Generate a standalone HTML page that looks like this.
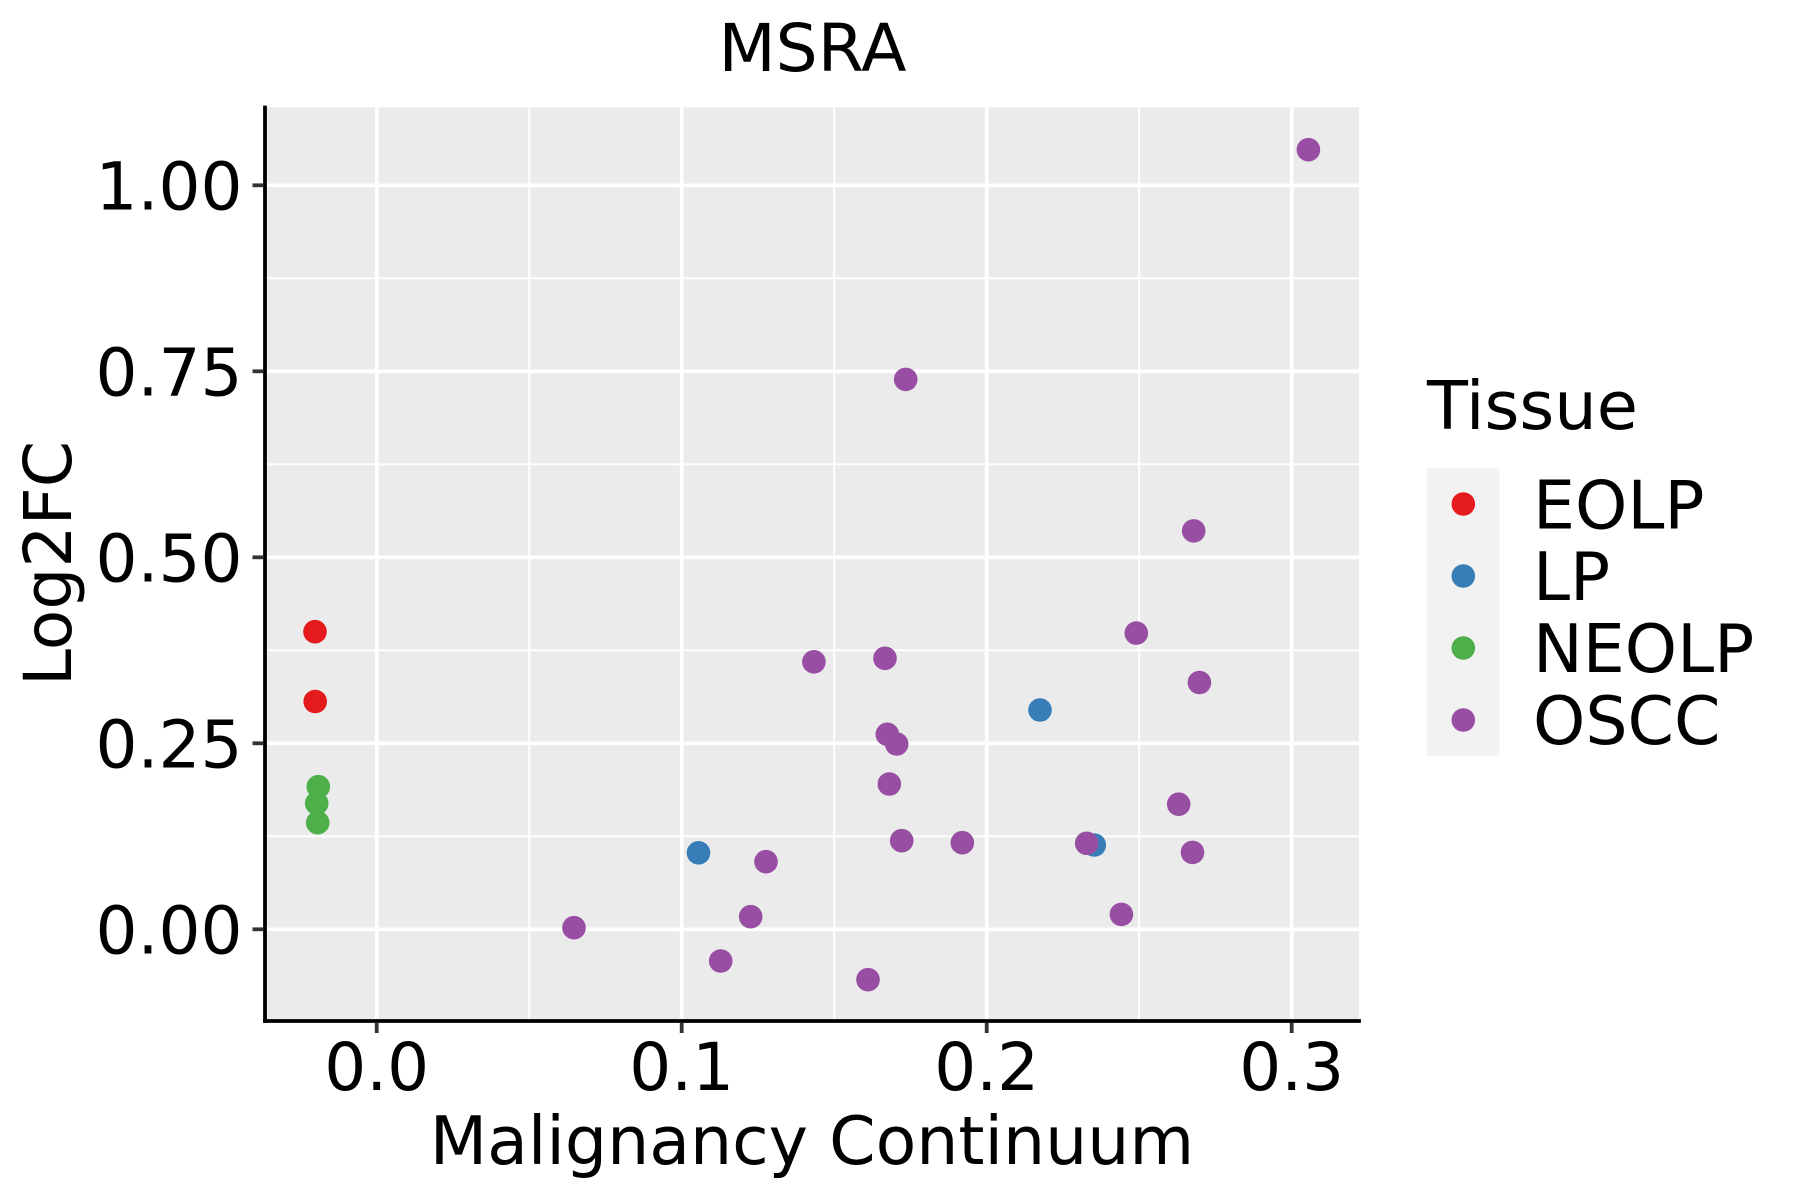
<!DOCTYPE html>
<html>
<head>
<meta charset="utf-8">
<style>
html,body{margin:0;padding:0;background:#fff;}
svg{display:block;}
text{font-family:"DejaVu Sans","Liberation Sans",sans-serif;fill:#000;}
</style>
</head>
<body>
<svg width="1800" height="1200" viewBox="0 0 1800 1200" xmlns="http://www.w3.org/2000/svg">
<rect x="0" y="0" width="1800" height="1200" fill="#fff"/>
<!-- panel -->
<rect x="265" y="107.3" width="1094" height="913.7" fill="#EBEBEB"/>
<!-- minor grid -->
<g stroke="#fff" stroke-width="1.9">
<line x1="529.2" y1="107.3" x2="529.2" y2="1021"/>
<line x1="834.2" y1="107.3" x2="834.2" y2="1021"/>
<line x1="1139.2" y1="107.3" x2="1139.2" y2="1021"/>
<line x1="265" y1="836.3" x2="1359" y2="836.3"/>
<line x1="265" y1="650.3" x2="1359" y2="650.3"/>
<line x1="265" y1="464.3" x2="1359" y2="464.3"/>
<line x1="265" y1="278.3" x2="1359" y2="278.3"/>
</g>
<!-- major grid -->
<g stroke="#fff" stroke-width="3.7">
<line x1="376.7" y1="107.3" x2="376.7" y2="1021"/>
<line x1="681.7" y1="107.3" x2="681.7" y2="1021"/>
<line x1="986.7" y1="107.3" x2="986.7" y2="1021"/>
<line x1="1291.7" y1="107.3" x2="1291.7" y2="1021"/>
<line x1="265" y1="929.3" x2="1359" y2="929.3"/>
<line x1="265" y1="743.3" x2="1359" y2="743.3"/>
<line x1="265" y1="557.3" x2="1359" y2="557.3"/>
<line x1="265" y1="371.3" x2="1359" y2="371.3"/>
<line x1="265" y1="185.3" x2="1359" y2="185.3"/>
</g>
<!-- points -->
<g>
<circle cx="315" cy="631.7" r="11.8" fill="#E41A1C"/>
<circle cx="315.2" cy="701.5" r="11.8" fill="#E41A1C"/>
<circle cx="698.5" cy="852.8" r="11.8" fill="#377EB8"/>
<circle cx="1040" cy="710" r="11.8" fill="#377EB8"/>
<circle cx="1094.3" cy="845" r="11.8" fill="#377EB8"/>
<circle cx="318.3" cy="786.7" r="11.8" fill="#4DAF4A"/>
<circle cx="316.7" cy="803.3" r="11.8" fill="#4DAF4A"/>
<circle cx="317.7" cy="822.7" r="11.8" fill="#4DAF4A"/>
<g fill="#984EA3">
<circle cx="1308.4" cy="149.7" r="11.8"/>
<circle cx="905.7" cy="379.4" r="11.8"/>
<circle cx="1193.7" cy="530.9" r="11.8"/>
<circle cx="1136.3" cy="633.1" r="11.8"/>
<circle cx="1199.4" cy="682.5" r="11.8"/>
<circle cx="813.9" cy="661.8" r="11.8"/>
<circle cx="885" cy="658.3" r="11.8"/>
<circle cx="887.3" cy="734.3" r="11.8"/>
<circle cx="896.7" cy="744" r="11.8"/>
<circle cx="889.3" cy="784" r="11.8"/>
<circle cx="1178.7" cy="804.2" r="11.8"/>
<circle cx="901.7" cy="840.7" r="11.8"/>
<circle cx="962.3" cy="842.7" r="11.8"/>
<circle cx="1086.7" cy="843.3" r="11.8"/>
<circle cx="1192.5" cy="852.4" r="11.8"/>
<circle cx="766" cy="861.7" r="11.8"/>
<circle cx="574" cy="927.7" r="11.8"/>
<circle cx="750.7" cy="916.7" r="11.8"/>
<circle cx="1121.4" cy="914.4" r="11.8"/>
<circle cx="720.7" cy="961" r="11.8"/>
<circle cx="868" cy="979.7" r="11.8"/>
</g>
</g>
<!-- axes -->
<g stroke="#000" stroke-width="3.8" stroke-linecap="square">
<line x1="265" y1="107.5" x2="265" y2="1021"/>
<line x1="265" y1="1021" x2="1359" y2="1021"/>
</g>
<!-- ticks -->
<g stroke="#333" stroke-width="3.8">
<line x1="252.5" y1="929.3" x2="263" y2="929.3"/>
<line x1="252.5" y1="743.3" x2="263" y2="743.3"/>
<line x1="252.5" y1="557.3" x2="263" y2="557.3"/>
<line x1="252.5" y1="371.3" x2="263" y2="371.3"/>
<line x1="252.5" y1="185.3" x2="263" y2="185.3"/>
<line x1="376.7" y1="1023" x2="376.7" y2="1033"/>
<line x1="681.7" y1="1023" x2="681.7" y2="1033"/>
<line x1="986.7" y1="1023" x2="986.7" y2="1033"/>
<line x1="1291.7" y1="1023" x2="1291.7" y2="1033"/>
</g>
<!-- y tick labels -->
<g font-size="66" text-anchor="end">
<text x="242.5" y="953.3">0.00</text>
<text x="242.5" y="767.3">0.25</text>
<text x="242.5" y="581.3">0.50</text>
<text x="242.5" y="395.3">0.75</text>
<text x="242.5" y="209.3">1.00</text>
</g>
<!-- x tick labels -->
<g font-size="66" text-anchor="middle">
<text x="376.7" y="1090">0.0</text>
<text x="681.7" y="1090">0.1</text>
<text x="986.7" y="1090">0.2</text>
<text x="1291.7" y="1090">0.3</text>
</g>
<!-- titles -->
<text x="812.5" y="71" font-size="66.3" text-anchor="middle">MSRA</text>
<text x="812" y="1164" font-size="66.5" text-anchor="middle">Malignancy Continuum</text>
<text transform="translate(71,563.5) rotate(-90)" font-size="66.3" text-anchor="middle">Log2FC</text>
<!-- legend -->
<text x="1427" y="429" font-size="67">Tissue</text>
<rect x="1427" y="468.3" width="72.3" height="287.4" fill="#F2F2F2"/>
<circle cx="1463.3" cy="504" r="11.8" fill="#E41A1C"/>
<circle cx="1463.3" cy="576" r="11.8" fill="#377EB8"/>
<circle cx="1463.3" cy="648" r="11.8" fill="#4DAF4A"/>
<circle cx="1463.3" cy="720" r="11.8" fill="#984EA3"/>
<g font-size="66.5">
<text x="1533" y="528.3">EOLP</text>
<text x="1533" y="600">LP</text>
<text x="1533" y="672">NEOLP</text>
<text x="1533" y="744">OSCC</text>
</g>
</svg>
</body>
</html>
